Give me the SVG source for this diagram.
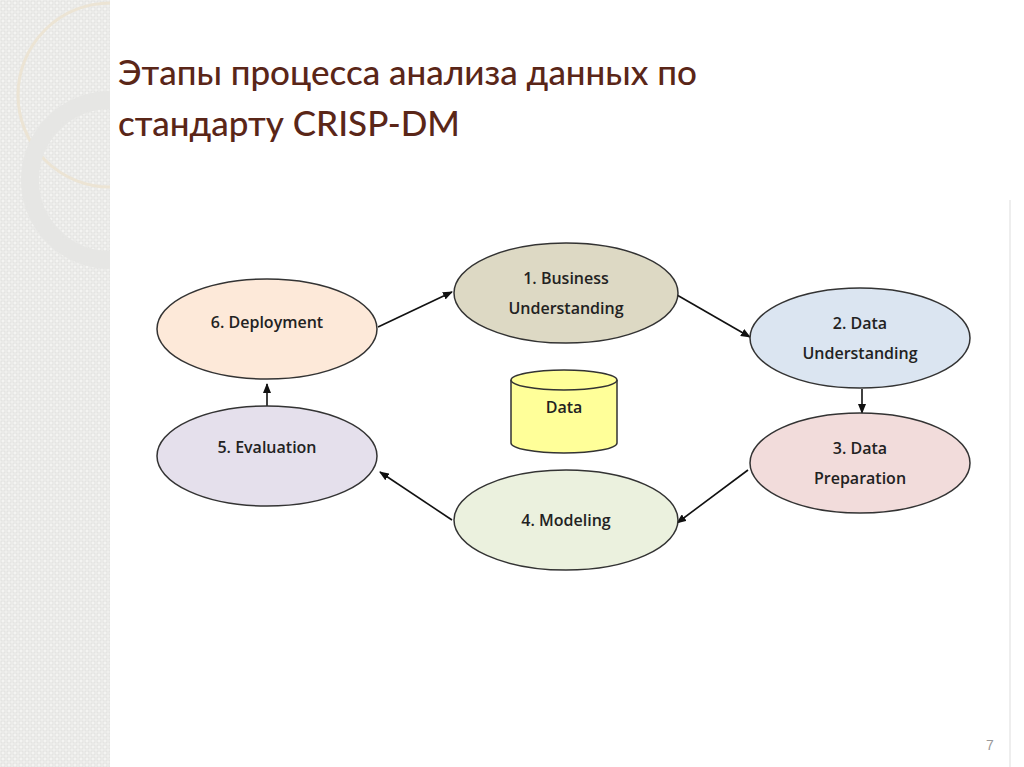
<svg xmlns="http://www.w3.org/2000/svg" width="1024" height="767" viewBox="0 0 1024 767">
<defs>
<pattern id="pt" width="6" height="6" patternUnits="userSpaceOnUse"><rect width="6" height="6" fill="#f4f4f2"/><rect x="1" y="1" width="4" height="4" fill="none" stroke="#dcdcda" stroke-width="0.8"/></pattern>
<clipPath id="cl"><rect width="110" height="767"/></clipPath>
<marker id="ah" markerWidth="10" markerHeight="8" refX="9" refY="4" orient="auto" markerUnits="userSpaceOnUse"><path d="M0,0 L10,4 L0,8 Z" fill="#111"/></marker>
</defs>
<style>
.n{stroke:#333;stroke-width:1.5}
.t{font-family:"Open Sans","Liberation Sans",sans-serif;font-size:16px;font-weight:600;fill:#222;text-anchor:middle}
.c{stroke:#111;stroke-width:1.6;fill:none;marker-end:url(#ah)}
.h{font-family:"Lato","Open Sans","Liberation Sans",sans-serif;font-size:35px;font-weight:500;fill:#5a2618}
</style>
<rect width="1024" height="767" fill="#fff"/>
<rect width="110" height="767" fill="url(#pt)"/>
<g clip-path="url(#cl)">
<circle cx="110" cy="95" r="92" fill="none" stroke="#ece4d4" stroke-width="3"/>
<circle cx="110" cy="180" r="80" fill="none" stroke="#e6e6e4" stroke-width="18"/>
</g>
<line x1="1010" y1="200" x2="1010" y2="767" stroke="#eee" stroke-width="2"/>
<text class="h" x="118" y="85">Этапы процесса анализа данных по</text>
<text class="h" x="118" y="136">стандарту CRISP-DM</text>
<g id="connectors">
<line class="c" x1="378" y1="327" x2="452" y2="292"/>
<line class="c" x1="677" y1="295" x2="750" y2="337"/>
<line class="c" x1="862" y1="389" x2="862" y2="413"/>
<line class="c" x1="748" y1="470" x2="677" y2="523"/>
<line class="c" x1="452" y1="520" x2="380" y2="472"/>
<line class="c" x1="267" y1="407" x2="267" y2="384"/>
</g>
<g id="n1"><ellipse class="n" cx="566" cy="293" rx="112" ry="50" fill="#ddd9c4"/><text class="t" x="566" y="284">1. Business</text><text class="t" x="566" y="314">Understanding</text></g>
<g id="n2"><ellipse class="n" cx="860" cy="338" rx="110" ry="50" fill="#dbe5f1"/><text class="t" x="860" y="329">2. Data</text><text class="t" x="860" y="359">Understanding</text></g>
<g id="n3"><ellipse class="n" cx="860" cy="463" rx="110" ry="50" fill="#f2dcdb"/><text class="t" x="860" y="454">3. Data</text><text class="t" x="860" y="484">Preparation</text></g>
<g id="n4"><ellipse class="n" cx="566" cy="520" rx="112" ry="50" fill="#ebf1de"/><text class="t" x="566" y="526">4. Modeling</text></g>
<g id="n5"><ellipse class="n" cx="267" cy="456" rx="110" ry="50" fill="#e5e0ec"/><text class="t" x="267" y="453">5. Evaluation</text></g>
<g id="n6"><ellipse class="n" cx="267" cy="329" rx="110" ry="50" fill="#fde9d9"/><text class="t" x="267" y="328">6. Deployment</text></g>
<g id="data"><path class="n" d="M511,380 L511,443 A53,10 0 0 0 617,443 L617,380" fill="#ffff99"/><ellipse class="n" cx="564" cy="380" rx="53" ry="10" fill="#ffff99"/><text class="t" x="564" y="413">Data</text></g>
<text x="990" y="750" font-family="Liberation Sans,sans-serif" font-size="14" fill="#999" text-anchor="middle">7</text>
</svg>
